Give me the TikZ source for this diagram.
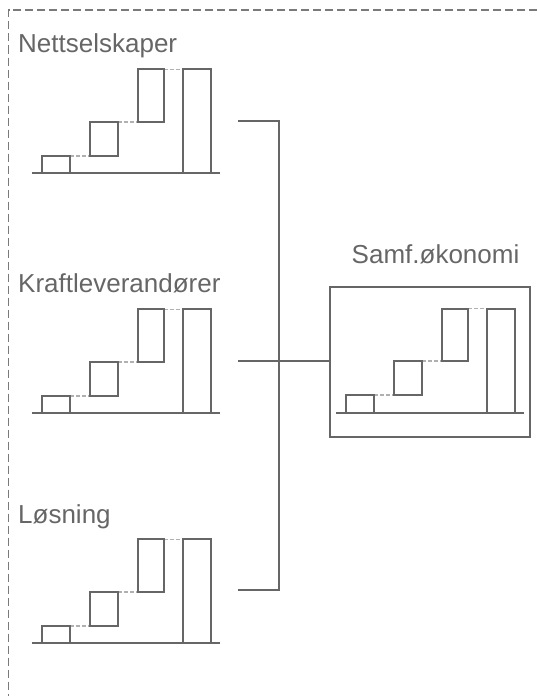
\documentclass[tikz,border=0pt]{standalone}
\usepackage{fontspec}
\setmainfont{Liberation Sans}
\usepackage{tikz}
\usetikzlibrary{positioning,calc}
\definecolor{ink}{HTML}{666666}
\definecolor{faint}{HTML}{B0B0B0}
\definecolor{frame}{HTML}{7A7A7A}

\begin{document}
\begin{tikzpicture}[
  x=1pt, y=-1pt,
  line/.style={draw=ink, line width=1.9pt},
  gap/.style={draw=faint, line width=1.5pt, dash pattern=on 4pt off 2pt},
  lbl/.style={anchor=base west, inner sep=0pt, text=ink, font=\fontsize{26}{31}\selectfont},
  conn/.style={draw=ink, line width=1.9pt},
  stairs/.pic={
    \draw[gap] (38,-17.5) -- (58,-17.5);
    \draw[gap] (86,-51.5) -- (106,-51.5);
    \draw[gap] (132,-104) -- (151,-104);
    \draw[line] (10,0) rectangle (38,-17.5);
    \draw[line] (58,-17.5) rectangle (86,-51.5);
    \draw[line] (106,-51.5) rectangle (132,-104);
    \draw[line] (151,0) rectangle (179,-104);
    \draw[line] (0,0) -- (188,0);
  },
]
\useasboundingbox (0,0) rectangle (537,696);

% Outer frame (open to the right and bottom)
\draw[draw=frame, line width=1.4pt, dash pattern=on 8pt off 4pt] (537,10) -- (8.5,10) -- (8.5,696);

% Actors
\node[lbl] (nettlbl) at (18,52) {Nettselskaper};
\node[lbl] (kraftlbl) at (18,292) {Kraftleverand\o rer};
\node[lbl] (loslbl) at (18,523) {L\o sning};
\pic at (31.7,173.3) {stairs};
\pic at (31.7,413.3) {stairs};
\pic at (31.7,643.3) {stairs};

% Society
\node[lbl] (samflbl) at (351.5,263) {Samf.\o konomi};
\node[draw=ink, line width=1.9pt, minimum width=200pt, minimum height=150pt] (samf) at (430,362.3) {};
\pic at (336,412.7) {stairs};

% Connectors
\coordinate (nettout) at (238,121);
\coordinate (kraftout) at (238,361);
\coordinate (losout) at (238,590);
\coordinate (bus) at (279,0);
\draw[conn] (nettout) -| (bus |- losout) -- (losout);
\draw[conn] (kraftout) -- (kraftout -| samf.west);

\end{tikzpicture}
\end{document}
